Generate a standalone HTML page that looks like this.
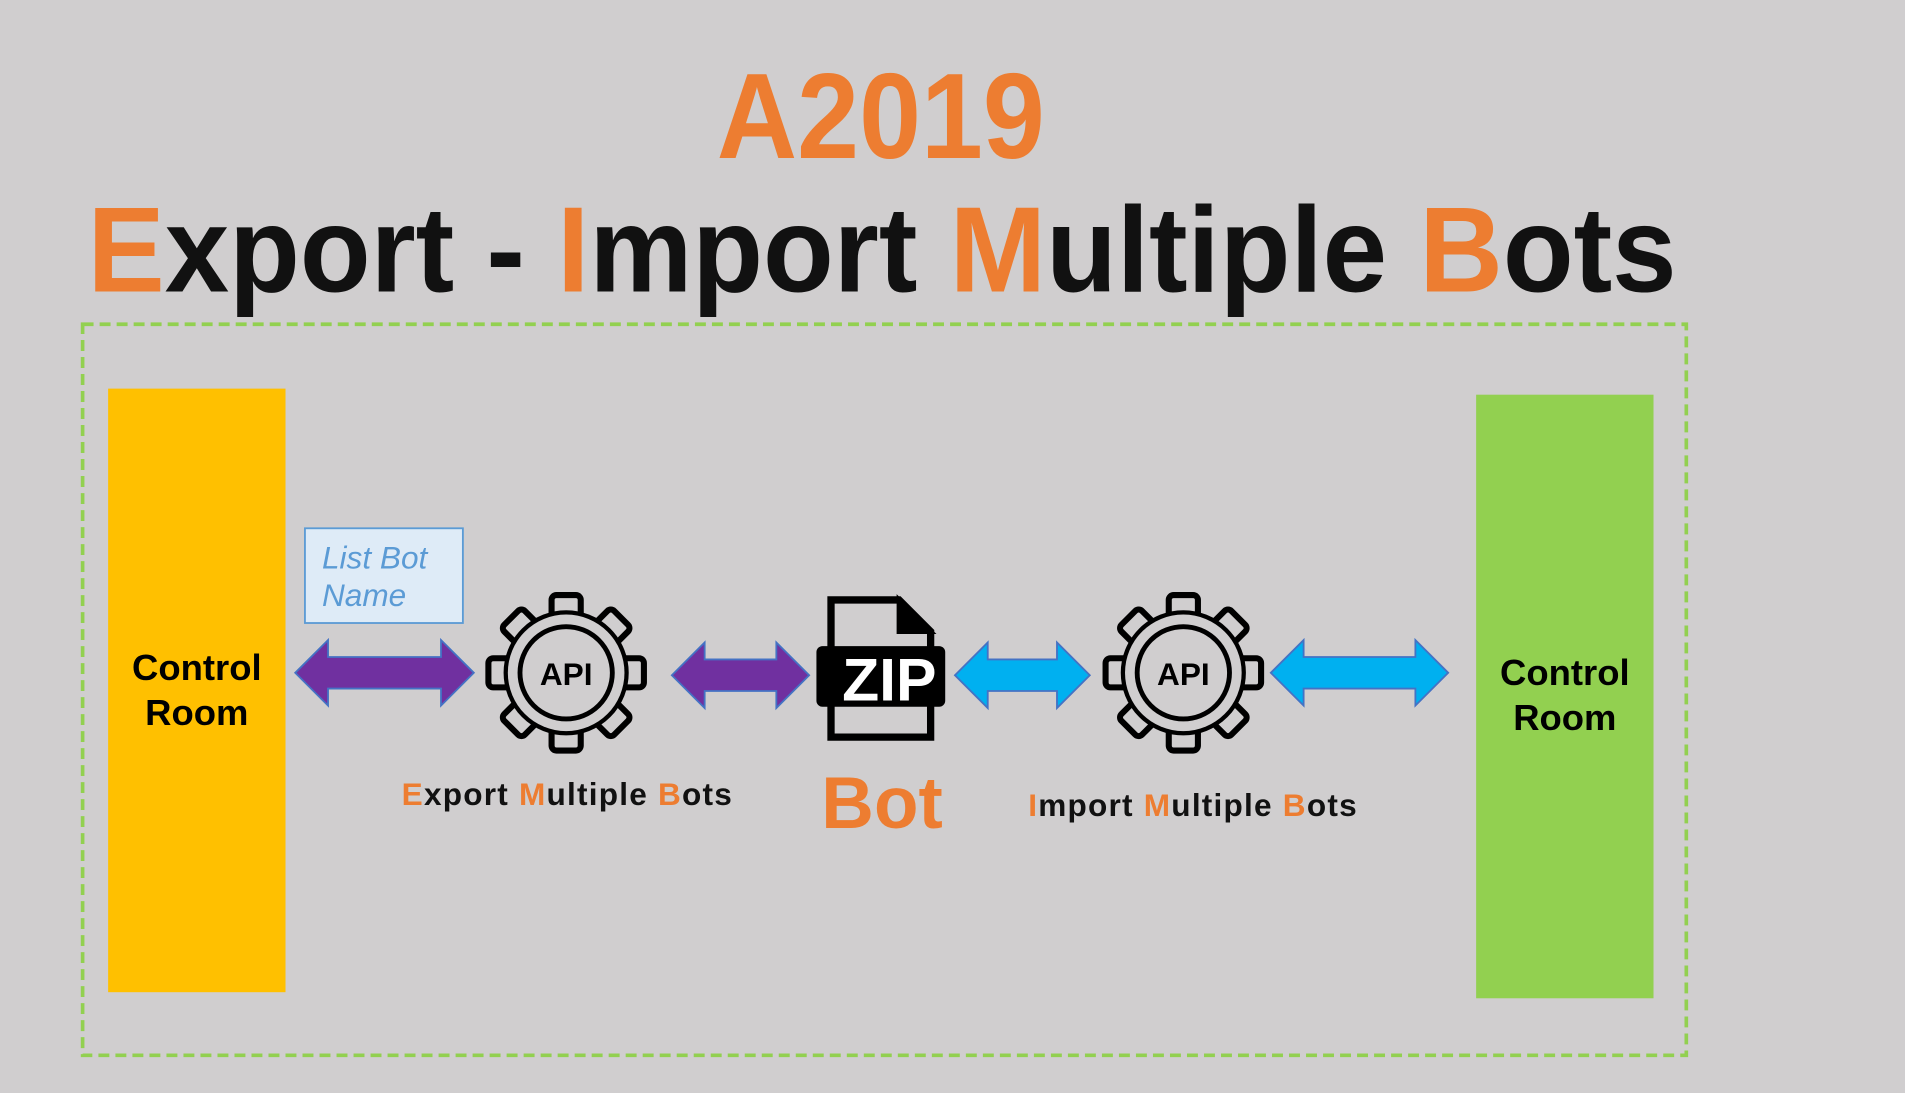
<!DOCTYPE html>
<html><head><meta charset="utf-8"><style>
html,body{margin:0;padding:0;background:#d0cecf;width:1905px;height:1093px;overflow:hidden}
svg{display:block}
text{font-family:"Liberation Sans",sans-serif}
</style></head><body>
<svg width="1905" height="1093" viewBox="0 0 1568 900" preserveAspectRatio="none">
<rect width="1568" height="900" fill="#d0cecf"/>
<text x="590" y="130" font-size="100" font-weight="bold" fill="#ed7d31" textLength="270" lengthAdjust="spacingAndGlyphs">A2019</text>
<text x="72" y="240" font-size="100" font-weight="bold" fill="#111" textLength="1308" lengthAdjust="spacingAndGlyphs"><tspan fill="#ed7d31">E</tspan>xport - <tspan fill="#ed7d31">I</tspan>mport <tspan fill="#ed7d31">M</tspan>ultiple <tspan fill="#ed7d31">B</tspan>ots</text>
<rect x="68" y="267" width="1320" height="602" fill="none" stroke="#92d050" stroke-width="3" stroke-dasharray="9 5"/>
<rect x="89" y="320" width="146" height="497" fill="#ffc000"/>
<text x="162" y="560" text-anchor="middle" font-size="30" font-weight="bold">Control</text>
<text x="162" y="597" text-anchor="middle" font-size="30" font-weight="bold">Room</text>
<rect x="1215" y="325" width="146" height="497" fill="#92d050"/>
<text x="1288" y="564" text-anchor="middle" font-size="30" font-weight="bold">Control</text>
<text x="1288" y="601" text-anchor="middle" font-size="30" font-weight="bold">Room</text>
<rect x="251" y="435" width="130" height="78" fill="#deebf7" stroke="#5b9bd5" stroke-width="1.5"/>
<text x="265" y="468" font-size="26" font-style="italic" fill="#5b9bd5">List Bot</text>
<text x="265" y="499" font-size="26" font-style="italic" fill="#5b9bd5">Name</text>
<defs>
<g id="gear">
<g fill="#d0cecf" stroke="#000" stroke-width="5">
<rect x="-12" y="-64" width="24" height="22" rx="4"/>
<rect x="-12" y="-64" width="24" height="22" rx="4" transform="rotate(45)"/>
<rect x="-12" y="-64" width="24" height="22" rx="4" transform="rotate(90)"/>
<rect x="-12" y="-64" width="24" height="22" rx="4" transform="rotate(135)"/>
<rect x="-12" y="-64" width="24" height="22" rx="4" transform="rotate(180)"/>
<rect x="-12" y="-64" width="24" height="22" rx="4" transform="rotate(225)"/>
<rect x="-12" y="-64" width="24" height="22" rx="4" transform="rotate(270)"/>
<rect x="-12" y="-64" width="24" height="22" rx="4" transform="rotate(315)"/>
</g>
<circle r="49" fill="#d0cecf" stroke="#000" stroke-width="5"/>
<circle r="48" fill="#d0cecf"/>
<circle r="38" fill="none" stroke="#000" stroke-width="4"/>
<text x="0" y="10" text-anchor="middle" font-size="26" font-weight="bold">API</text>
</g>
</defs>
<use href="#gear" x="466" y="554"/>
<use href="#gear" x="974" y="554"/>
<polygon points="243,554 270,527 270,541 363,541 363,527 390,554 363,581 363,567 270,567 270,581" fill="#7030a0" stroke="#4472c4" stroke-width="1.5"/>
<polygon points="553,556 580,529 580,543 639,543 639,529 666,556 639,583 639,569 580,569 580,583" fill="#7030a0" stroke="#4472c4" stroke-width="1.5"/>
<polygon points="786,556 813,529 813,543 870,543 870,529 897,556 870,583 870,569 813,569 813,583" fill="#00b0f0" stroke="#4472c4" stroke-width="1.5"/>
<polygon points="1046,554 1073,527 1073,541 1165,541 1165,527 1192,554 1165,581 1165,567 1073,567 1073,581" fill="#00b0f0" stroke="#4472c4" stroke-width="1.5"/>
<path d="M684 494 L740 494 L766 520 L766 607 L684 607 Z" fill="#d0cecf" stroke="#000" stroke-width="6"/>
<path d="M740 494 L740 520 L766 520 Z" fill="#000" stroke="#000" stroke-width="4"/>
<rect x="672" y="532" width="106" height="50" rx="5" fill="#000"/>
<text x="732" y="577" text-anchor="middle" font-size="50" font-weight="bold" fill="#fff">ZIP</text>
<text x="467" y="663" text-anchor="middle" font-size="26" font-weight="bold" fill="#111" letter-spacing="1"><tspan fill="#ed7d31">E</tspan>xport <tspan fill="#ed7d31">M</tspan>ultiple <tspan fill="#ed7d31">B</tspan>ots</text>
<text x="726" y="682" text-anchor="middle" font-size="60" font-weight="bold" fill="#ed7d31">Bot</text>
<text x="982" y="672" text-anchor="middle" font-size="26" font-weight="bold" fill="#111" letter-spacing="1"><tspan fill="#ed7d31">I</tspan>mport <tspan fill="#ed7d31">M</tspan>ultiple <tspan fill="#ed7d31">B</tspan>ots</text>
</svg>
</body></html>
